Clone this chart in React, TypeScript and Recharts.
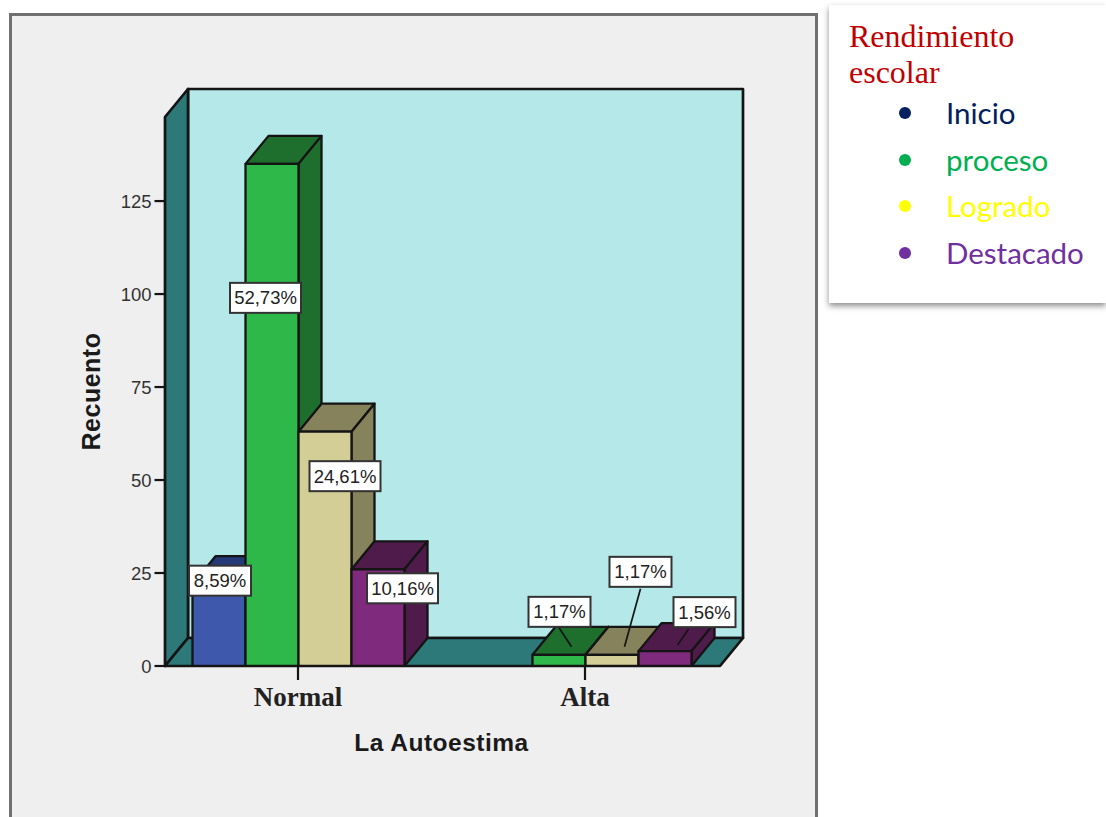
import React from "react";
import { BarChart, Bar, XAxis, YAxis, LabelList } from "recharts";

const categories = ["Normal", "Alta"];
const inicio = [22, null];
const proceso = [135, 3];
const logrado = [63, 3];
const destacado = [26, 4];
const yTicks = [0, 25, 50, 75, 100, 125];
const inicioLabels = ["8,59%", ""];
const procesoLabels = ["52,73%", "1,17%"];
const logradoLabels = ["24,61%", "1,17%"];
const destacadoLabels = ["10,16%", "1,56%"];
const legendItems = ["Inicio", "proceso", "Logrado", "Destacado"];
const legendColors = ["#002060", "#00B050", "#FFFF00", "#7030A0"];

const tableData = categories.map((c, i) => ({
  category: c,
  inicio: inicio[i],
  proceso: proceso[i],
  logrado: logrado[i],
  destacado: destacado[i],
}));

const DX = 23;
const DY = -28;
const INK = "#141414";
const SANS = "'Liberation Sans', Arial, sans-serif";
const SERIF = "'Liberation Serif', 'Times New Roman', serif";

const bar3d = (front: string, shade: string) => (p: any) => {
  const { x, y, width, height } = p;
  if (!height || height <= 0) return <g />;
  return (
    <g stroke={INK} strokeWidth={2.3} strokeLinejoin="round">
      <path d={`M${x},${y} l${DX},${DY} h${width} l${-DX},${-DY} z`} fill={shade} />
      <path d={`M${x + width},${y} l${DX},${DY} v${height} l${-DX},${-DY} z`} fill={shade} />
      <rect x={x} y={y} width={width} height={height} fill={front} />
    </g>
  );
};

type Place = { dx: number; dy: number; lead?: [number, number, number, number] };

const makeLabel = (texts: string[], places: (Place | null)[]) => (p: any) => {
  const { x, y, width, index } = p;
  const place = places[index];
  if (!place || !texts[index]) return <g />;
  const cx = x + width / 2 + place.dx;
  const cy = y + place.dy;
  const w = texts[index].length > 5 ? 71 : 62;
  const bx = x + width / 2;
  return (
    <g>
      {place.lead && (
        <line
          x1={bx + place.lead[0]}
          y1={y + place.lead[1]}
          x2={bx + place.lead[2]}
          y2={y + place.lead[3]}
          stroke={INK}
          strokeWidth={1.7}
        />
      )}
      <rect x={cx - w / 2} y={cy - 15} width={w} height={30} fill="#fff" stroke="#333" strokeWidth={2} />
      <text
        x={cx}
        y={cy + 6.5}
        textAnchor="middle"
        fontFamily={SANS}
        fontSize={18.5}
        fill="#222"
      >
        {texts[index]}
      </text>
    </g>
  );
};

const YTick = (p: any) => {
  const { x, y, payload } = p;
  return (
    <g>
      <line x1={x} y1={y} x2={x + 11} y2={y} stroke={INK} strokeWidth={2.2} />
      <text x={x - 3} y={y + 7} textAnchor="end" fontFamily={SANS} fontSize={18.5} fill="#333">
        {payload.value}
      </text>
    </g>
  );
};

const XTick = (p: any) => {
  const { x, y, payload } = p;
  return (
    <g>
      <line x1={x} y1={y} x2={x} y2={y + 14} stroke={INK} strokeWidth={2.2} />
      <text
        x={x}
        y={y + 40}
        textAnchor="middle"
        fontFamily={SERIF}
        fontWeight="bold"
        fontSize={27}
        fill="#222"
      >
        {payload.value}
      </text>
    </g>
  );
};

const Walls = () => {
  const l = 165;
  const r = 720;
  const t = 117;
  const b = 666;
  return (
    <svg width={1106} height={817} style={{ position: "absolute", left: 0, top: 0 }}>
      <g stroke={INK} strokeWidth={2.7} strokeLinejoin="round">
        <rect x={l + DX} y={t + DY} width={r - l} height={b - t} fill="#B5E8E8" />
        <path d={`M${l},${t} l${DX},${DY} V${b + DY} L${l},${b} z`} fill="#2D7878" />
        <path d={`M${l},${b} l${DX},${DY} H${r + DX} L${r},${b} z`} fill="#2D7878" />
      </g>
    </svg>
  );
};

export default function App() {
  return (
    <div style={{ position: "absolute", left: 0, top: 0, width: 1106, height: 817, overflow: "hidden", background: "#fff" }}>
      <div
        style={{
          position: "absolute",
          left: 9,
          top: 13,
          width: 809,
          height: 900,
          background: "#EFEFEF",
          border: "3px solid #707070",
          boxSizing: "border-box",
        }}
      />
      <Walls />
      <div style={{ position: "absolute", left: 0, top: 0 }}>
        <BarChart
          width={1106}
          height={817}
          data={tableData}
          margin={{ top: 117, left: 0, right: 377.5, bottom: 51 }}
          barSize={53}
          barGap={0}
          barCategoryGap={37.5}
        >
          <XAxis
            dataKey="category"
            tick={XTick}
            tickLine={false}
            tickSize={0}
            tickMargin={0}
            height={100}
            axisLine={false}
            interval={0}
            label={{
              value: "La Autoestima",
              position: "insideBottom",
              offset: 15,
              style: { fontFamily: SANS, fontWeight: "bold", fontSize: 24.5, letterSpacing: 0.5, fill: "#1a1a1a" },
            }}
          />
          <YAxis
            width={154.5}
            domain={[0, 147.6]}
            ticks={yTicks}
            tick={YTick}
            tickLine={false}
            tickSize={0}
            tickMargin={0}
            axisLine={false}
            allowDataOverflow
            label={{
              value: "Recuento",
              angle: -90,
              position: "insideLeft",
              offset: 91,
              textAnchor: "middle",
              style: { fontFamily: SANS, fontWeight: "bold", fontSize: 25, letterSpacing: 0.5, fill: "#1a1a1a", textAnchor: "middle" },
            }}
          />
          <Bar dataKey="inicio" isAnimationActive={false} shape={bar3d("#3E58AC", "#243A78")}>
            <LabelList content={makeLabel(inicioLabels, [{ dx: 1, dy: -3.5 }, null])} />
          </Bar>
          <Bar dataKey="proceso" isAnimationActive={false} shape={bar3d("#2EB84A", "#1E6E2E")}>
            <LabelList
              content={makeLabel(procesoLabels, [
                { dx: -6.5, dy: 134 },
                { dx: 0.5, dy: -43, lead: [0, -27, 12.5, -8] },
              ])}
            />
          </Bar>
          <Bar dataKey="logrado" isAnimationActive={false} shape={bar3d("#D3CE96", "#86825C")}>
            <LabelList
              content={makeLabel(logradoLabels, [
                { dx: 20, dy: 44.5 },
                { dx: 28.5, dy: -83, lead: [28.5, -66, 12.5, -8] },
              ])}
            />
          </Bar>
          <Bar dataKey="destacado" isAnimationActive={false} shape={bar3d("#7F2A7C", "#4E1B4B")}>
            <LabelList
              content={makeLabel(destacadoLabels, [
                { dx: 24.5, dy: 19 },
                { dx: 39.5, dy: -39, lead: [23.5, -22, 12.5, -6] },
              ])}
            />
          </Bar>
        </BarChart>
      </div>
      <div
        style={{
          position: "absolute",
          left: 829,
          top: 5,
          width: 277,
          height: 298,
          background: "#fff",
          boxShadow: "0 3px 6px rgba(0,0,0,0.45)",
        }}
      >
        <div
          style={{
            position: "absolute",
            left: 20,
            top: 13,
            fontFamily: SERIF,
            fontSize: 32,
            lineHeight: "36px",
            color: "#C00000",
          }}
        >
          Rendimiento
          <br />
          escolar
        </div>
        {legendItems.map((item, i) => (
          <div key={item}>
            <div
              style={{
                position: "absolute",
                left: 70,
                top: 102 + i * 46.6,
                width: 12,
                height: 12,
                borderRadius: 6,
                background: legendColors[i],
              }}
            />
            <div
              style={{
                position: "absolute",
                left: 117,
                top: 90 + i * 46.6,
                fontFamily: "Lato, sans-serif",
                fontSize: 29.5,
                lineHeight: "36px",
                color: legendColors[i],
              }}
            >
              {item}
            </div>
          </div>
        ))}
      </div>
    </div>
  );
}
